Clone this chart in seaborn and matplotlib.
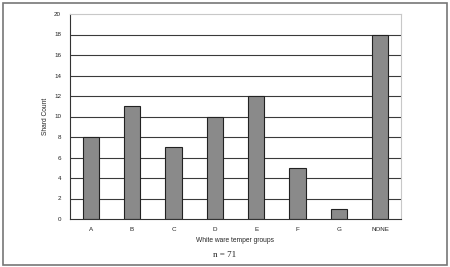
import matplotlib
matplotlib.use("Agg")
import matplotlib.pyplot as plt
import seaborn as sns
import pandas as pd
import numpy as np
from matplotlib.patches import Rectangle

categories = ["A", "B", "C", "D", "E", "F", "G", "NONE"]
counts = [8, 11, 7, 10, 12, 5, 1, 18]
yticks = list(range(0, 21, 2))

df = pd.DataFrame({"group": categories, "count": counts})

sns.set_style("white")
plt.rcParams['font.family'] = ['Liberation Sans', 'DejaVu Sans']

fig = plt.figure(figsize=(4.5, 2.67), dpi=100)
fig.patch.set_facecolor("white")
W, H = 450, 267
ax = fig.add_axes([70 / W, 1 - 219 / H, (401 - 70) / W, (219 - 14) / H])

ax.set_axisbelow(True)
for t in yticks[1:-1]:
    ax.axhline(t, color="#3a3a3a", lw=0.8, zorder=0)

sns.barplot(data=df, x="group", y="count", ax=ax, color="#8a8a8a",
            edgecolor="#222222", linewidth=0.8, width=0.39, saturation=1)

ax.set_ylim(0, 20)
ax.set_xlim(-0.5, len(categories) - 0.5)
ax.set_yticks(yticks)
ax.set_yticklabels([str(t) for t in yticks])
ax.tick_params(axis="both", labelsize=4.5, colors="#222222", length=3, width=0.6, direction="out")
ax.tick_params(axis="x", length=0, pad=6)
ax.set_xticks(np.arange(-0.5, len(categories), 1), minor=True)
ax.tick_params(axis="x", which="minor", length=2, width=0.6, direction="out")

for s in ["top", "right"]:
    ax.spines[s].set_color("#c8c8c8")
    ax.spines[s].set_linewidth(0.8)
for s in ["left", "bottom"]:
    ax.spines[s].set_color("#333333")
    ax.spines[s].set_linewidth(0.8)

ax.set_ylabel("Shard Count", fontsize=4.8)
ax.yaxis.set_label_coords(-0.062, 0.5)
ax.set_xlabel("White ware temper groups", fontsize=4.8, labelpad=3)

fig.text(225 / W, 1 - 255 / H, "n = 71", fontsize=6.5, family=["Liberation Serif", "DejaVu Serif"],
         ha="center", va="center", color="#222222")

fig.patches.append(Rectangle((3 / W, 2 / H), 444 / W, 262 / H, transform=fig.transFigure,
                             fill=False, edgecolor="#777777", lw=1.2))

fig.savefig("out.png", dpi=100, facecolor="white")
